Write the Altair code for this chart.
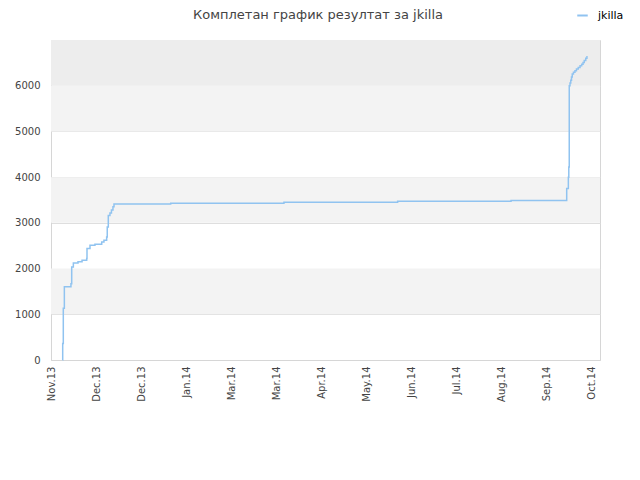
import altair as alt
import pandas as pd

# --- data ---
start_date = "2013-11-01"
day_offsets = [7.7, 7.8, 8.2, 8.9, 13.3, 13.8, 14.9, 18.0, 20.7, 23.8, 24.0, 26.0, 29.3,
               33.8, 35.3, 37.1, 37.5, 38.2, 39.3, 40.3, 41.3, 42.0, 79.8, 155.3, 231.1,
               306.7, 343.8, 344.9, 345.2, 345.5, 346.0, 346.5, 347.0, 347.5, 348.3,
               349.3, 350.3, 351.5, 352.7, 353.8, 354.7, 355.5, 356.5, 357.3]
scores = [0, 360, 1130, 1600, 1670, 2035, 2120, 2150, 2180, 2220, 2440, 2510, 2530,
          2580, 2620, 2690, 2910, 3160, 3215, 3280, 3350, 3410, 3430, 3450, 3470,
          3490, 3750, 4000, 4220, 6000, 6060, 6120, 6190, 6255, 6295,
          6330, 6365, 6400, 6435, 6470, 6510, 6550, 6600, 6650]
series_name = "jkilla"
title_text = "Комплетан график резултат за jkilla"
tick_labels = ["Nov.13", "Dec.13", "Dec.13", "Jan.14", "Mar.14", "Mar.14", "Apr.14",
               "May.14", "Jun.14", "Jul.14", "Aug.14", "Sep.14", "Oct.14"]
tick_day_offsets = [0, 30, 60, 90, 120, 150, 180, 210, 240, 270, 300, 330, 360]
domain_days = [0, 366]
band_lo = [1000, 3000, 5000, 6000]
band_hi = [2000, 4000, 6000, 7000]
band_col = ["#f3f3f3", "#f3f3f3", "#f3f3f3", "#ededed"]

t0 = pd.Timestamp(start_date)
def to_iso(d):
    return (t0 + pd.to_timedelta(d, unit="D")).strftime("%Y-%m-%dT%H:%M:%S")

def to_dt(d):
    t = t0 + pd.Timedelta(days=d)
    return alt.DateTime(year=int(t.year), month=int(t.month), date=int(t.day))

df = pd.DataFrame({
    "date": [to_iso(d) for d in day_offsets],
    "score": scores,
    "series": series_name,
})
bands = pd.DataFrame({"lo": band_lo, "hi": band_hi, "col": band_col})
title_df = pd.DataFrame({"t": [title_text]})

tick_dt = [to_dt(d) for d in tick_day_offsets]
xdom = [to_dt(d) for d in domain_days]

FONT = "DejaVu Sans"

band_layer = alt.Chart(bands).mark_rect().encode(
    y=alt.Y("lo:Q", scale=alt.Scale(domain=[0, 7000], nice=False)),
    y2="hi:Q",
    x=alt.value(0),
    x2=alt.value(549),
    color=alt.Color("col:N", scale=None),
)

line_layer = alt.Chart(df).mark_line(interpolate="step-after", strokeWidth=1.5).encode(
    x=alt.X("date:T", scale=alt.Scale(domain=xdom),
            axis=alt.Axis(values=tick_dt, format="%b.%y", labelAngle=270, title=None,
                          grid=False, ticks=False, labelPadding=6, labelFontSize=10,
                          labelColor="#444", labelFont=FONT, domainColor="#d6d6d6",
                          labelAlign="right", labelBaseline="middle")),
    y=alt.Y("score:Q", scale=alt.Scale(domain=[0, 7000], nice=False),
            axis=alt.Axis(values=[0, 1000, 2000, 3000, 4000, 5000, 6000], title=None,
                          format="d",
                          grid=True, gridColor="#dedede", ticks=False, labelPadding=11,
                          labelFontSize=10, labelColor="#444", labelFont=FONT,
                          domainColor="#d6d6d6")),
    color=alt.Color("series:N", scale=alt.Scale(range=["#90c3f0"]),
                    legend=alt.Legend(orient="none", legendX=525, legendY=-31, title=None,
                                      symbolType="stroke", symbolStrokeWidth=2, symbolSize=110,
                                      labelFontSize=11, labelColor="#000", labelFont=FONT,
                                      padding=0, labelOffset=9)),
)

title_layer = alt.Chart(title_df).mark_text(
    font=FONT, fontSize=13, color="#444", align="center", baseline="top"
).encode(text="t:N", x=alt.value(267), y=alt.value(-31))

chart = alt.layer(band_layer, line_layer, title_layer).properties(
    width=549, height=320,
    autosize=alt.AutoSizeParams(type="none"),
    padding={"left": 43, "top": 32, "right": 32, "bottom": 60},
).configure_view(stroke="#d6d6d6", strokeWidth=1).configure_axis(domainWidth=1)

chart.save("out.html", embed_options={"renderer": "svg", "actions": False})
